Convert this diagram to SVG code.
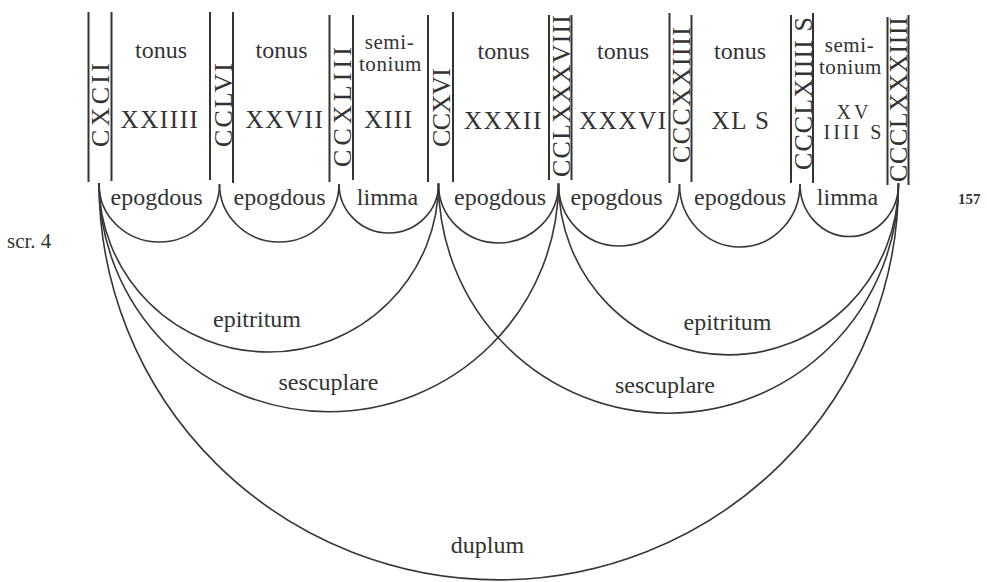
<svg xmlns="http://www.w3.org/2000/svg" width="987" height="582" viewBox="0 0 987 582">
<style>
  .bg { fill: #ffffff; }
  .bar { stroke: #333333; stroke-width: 2; fill: none; }
  .arc { stroke: #363636; stroke-width: 1.6; fill: none; }
  text { font-family: "Liberation Serif", "Times New Roman", serif; fill: #333333; }
  .lbl { font-size: 24px; text-anchor: middle; }
  .sm { font-size: 21px; text-anchor: middle; letter-spacing: 0.6px; }
  .num { font-size: 25px; text-anchor: middle; letter-spacing: 1.6px; }
  .num2 { font-size: 20px; text-anchor: middle; letter-spacing: 3px; }
  .vnum { font-size: 26px; text-anchor: middle; }
  .note { font-size: 21px; }
  .page { font-size: 15px; font-weight: bold; }
</style>
<rect class="bg" x="0" y="0" width="987" height="582"/>

<!-- boundary nodes: numbers between double bars -->
<g id="n0">
  <line class="bar" x1="88.5" y1="12" x2="88.5" y2="182"/>
  <line class="bar" x1="111.5" y1="12" x2="111.5" y2="181"/>
  <text class="vnum" transform="translate(108.5,105) rotate(-90)" textLength="84" lengthAdjust="spacing">CXCII</text>
</g>
<g id="n1">
  <line class="bar" x1="210" y1="12" x2="210" y2="180"/>
  <line class="bar" x1="233" y1="12" x2="233" y2="183"/>
  <text class="vnum" transform="translate(232,105) rotate(-90)" textLength="84" lengthAdjust="spacing">CCLVI</text>
</g>
<g id="n2">
  <line class="bar" x1="329.5" y1="15" x2="329.5" y2="182"/>
  <line class="bar" x1="353" y1="15" x2="353" y2="180"/>
  <text class="vnum" transform="translate(350.5,107) rotate(-90)" textLength="120" lengthAdjust="spacing">CCXLIII</text>
</g>
<g id="n3">
  <line class="bar" x1="428" y1="15" x2="428" y2="182"/>
  <line class="bar" x1="453" y1="12" x2="453" y2="182"/>
  <text class="vnum" transform="translate(450,107.5) rotate(-90)" textLength="79" lengthAdjust="spacing">CCXVI</text>
</g>
<g id="n4">
  <line class="bar" x1="549" y1="15" x2="549" y2="180"/>
  <line class="bar" x1="571.5" y1="15" x2="571.5" y2="180"/>
  <text class="vnum" transform="translate(570,96) rotate(-90)" textLength="162" lengthAdjust="spacing">CCLXXXVIII</text>
</g>
<g id="n5">
  <line class="bar" x1="669.5" y1="13" x2="669.5" y2="183"/>
  <line class="bar" x1="691.5" y1="15" x2="691.5" y2="182"/>
  <text class="vnum" transform="translate(690,95) rotate(-90)" textLength="136" lengthAdjust="spacing">CCCXXIIII</text>
</g>
<g id="n6">
  <line class="bar" x1="791" y1="15" x2="791" y2="183"/>
  <line class="bar" x1="813" y1="13" x2="813" y2="183"/>
  <text class="vnum" transform="translate(812,93.5) rotate(-90)" textLength="153" lengthAdjust="spacing">CCCLXIIII S</text>
</g>
<g id="n7">
  <line class="bar" x1="887.5" y1="17" x2="887.5" y2="185"/>
  <line class="bar" x1="908.5" y1="15" x2="908.5" y2="185"/>
  <text class="vnum" transform="translate(907,99.5) rotate(-90)" textLength="165" lengthAdjust="spacing">CCCLXXXIIII</text>
</g>

<!-- interval nodes -->
<g id="i1">
  <text class="lbl" x="161" y="58">tonus</text>
  <text class="num" x="160" y="128">XXIIII</text>
  <text class="lbl" x="156.5" y="205">epogdous</text>
</g>
<g id="i2">
  <text class="lbl" x="281.5" y="58">tonus</text>
  <text class="num" x="285" y="128">XXVII</text>
  <text class="lbl" x="279.5" y="205">epogdous</text>
</g>
<g id="i3">
  <text class="sm" x="389.5" y="49">semi-</text>
  <text class="sm" x="390.5" y="71">tonium</text>
  <text class="num" x="389" y="128">XIII</text>
  <text class="lbl" x="387.5" y="205">limma</text>
</g>
<g id="i4">
  <text class="lbl" x="503.5" y="59">tonus</text>
  <text class="num" x="503.5" y="128.5">XXXII</text>
  <text class="lbl" x="500" y="205">epogdous</text>
</g>
<g id="i5">
  <text class="lbl" x="623" y="59">tonus</text>
  <text class="num" x="623.5" y="128.5">XXXVI</text>
  <text class="lbl" x="616.5" y="205">epogdous</text>
</g>
<g id="i6">
  <text class="lbl" x="740" y="59">tonus</text>
  <text class="num" x="741" y="128.5">XL S</text>
  <text class="lbl" x="740" y="205">epogdous</text>
</g>
<g id="i7">
  <text class="sm" x="849.5" y="52">semi-</text>
  <text class="sm" x="850.5" y="74">tonium</text>
  <text class="num2" x="854" y="119">XV</text>
  <text class="num2" x="854" y="139">IIII S</text>
  <text class="lbl" x="847.5" y="205">limma</text>
</g>

<!-- connectors: ratio arcs -->
<g id="connectors">
  <path class="arc" d="M 99 184 A 60.25 58 0 0 0 219.5 184"/>
  <path class="arc" d="M 219.5 184 A 59.75 58 0 0 0 339 184"/>
  <path class="arc" d="M 339 184 A 49.75 49 0 0 0 438.5 184"/>
  <path class="arc" d="M 438.5 184 A 60 59 0 0 0 558.5 184"/>
  <path class="arc" d="M 558.5 184 A 60.5 62 0 0 0 679.5 184"/>
  <path class="arc" d="M 679.5 184 A 60.25 63 0 0 0 800 184"/>
  <path class="arc" d="M 800 184 A 49.25 52.5 0 0 0 898.5 184"/>

  <path class="arc" d="M 99 183 A 169.75 169 0 0 0 438.5 183"/>
  <path class="arc" d="M 99 183 A 229.75 228.7 0 0 0 558.5 183"/>
  <path class="arc" d="M 99 183 A 399.75 397 0 0 0 898.5 183"/>
  <path class="arc" d="M 558.5 183 A 170 172 0 0 0 898.5 183"/>
  <path class="arc" d="M 438.5 183 A 230 230.3 0 0 0 898.5 183"/>
</g>

<g id="arc-labels">
  <text class="lbl" x="257" y="327">epitritum</text>
  <text class="lbl" x="328.5" y="390">sescuplare</text>
  <text class="lbl" x="727.5" y="330">epitritum</text>
  <text class="lbl" x="665" y="392.5">sescuplare</text>
  <text class="lbl" x="487.5" y="552.5">duplum</text>
</g>

<g id="margin">
  <text class="note" x="7" y="248">scr. 4</text>
  <text class="page" x="958" y="204">157</text>
</g>
</svg>
